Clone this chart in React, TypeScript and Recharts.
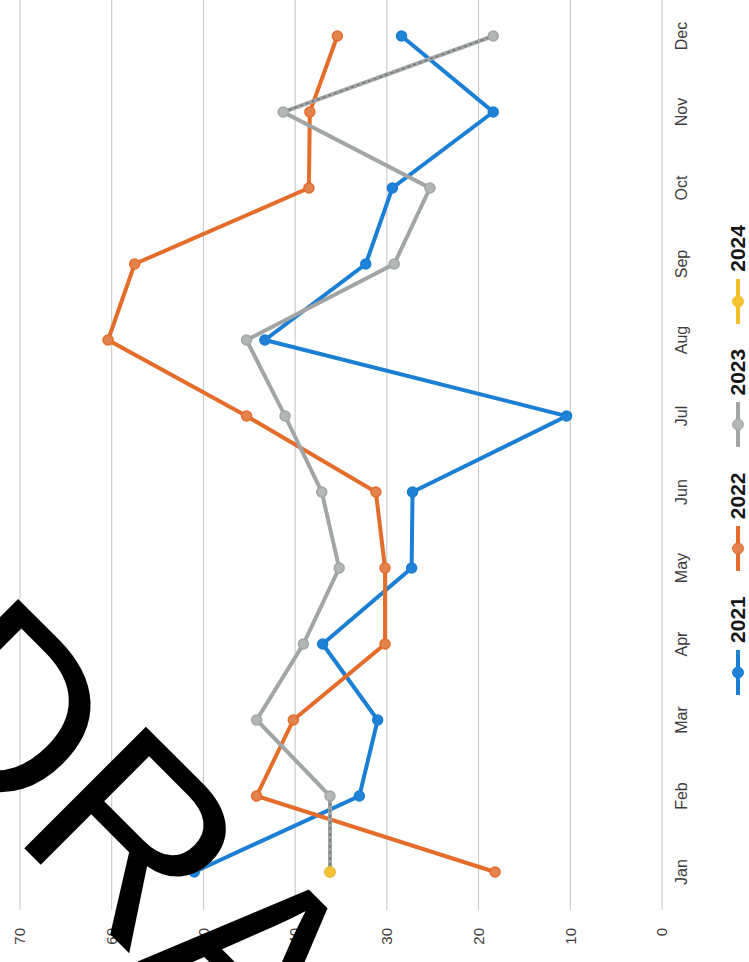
import React from "react";
import { CartesianGrid, Line, LineChart, XAxis, YAxis } from "recharts";

const MONTHS = ["Jan", "Feb", "Mar", "Apr", "May", "Jun", "Jul", "Aug", "Sep", "Oct", "Nov", "Dec"];
const Y2021 = [51, 33, 31, 37, 27.3, 27.2, 10.4, 43.3, 32.3, 29.4, 18.4, 28.4];
const Y2022 = [18.2, 44.2, 40.2, 30.2, 30.2, 31.2, 45.3, 60.4, 57.5, 38.5, 38.4, 35.4];
const Y2023 = [36.2, 36.2, 44.2, 39.1, 35.2, 37.1, 41.1, 45.3, 29.2, 25.3, 41.3, 18.4];
const Y2024 = [36.2, null, null, null, null, null, null, null, null, null, null, null];
// darker dashed texture on the first and last 2023 segments
const Y2023_EDGE = [36.2, 36.2, null, null, null, null, null, null, null, null, 41.3, 18.4];
const VALUE_TICKS = [0, 10, 20, 30, 40, 50, 60, 70];

const SERIES = [
  { key: "y2021", name: "2021", color: "#1b7fd4", dotFill: "#1f82d6" },
  { key: "y2022", name: "2022", color: "#e46d2c", dotFill: "#e3844e" },
  { key: "y2023", name: "2023", color: "#a2a5a5", dotFill: "#b3b6b6" },
  { key: "y2024", name: "2024", color: "#f4bf2a", dotFill: "#f5c232" },
];

const data = MONTHS.map((month, i) => ({
  month,
  y2021: Y2021[i],
  y2022: Y2022[i],
  y2023: Y2023[i],
  y2024: Y2024[i],
  y2023edge: Y2023_EDGE[i],
}));

// chart is drawn upright, then turned a quarter turn counter-clockwise
const CW = 980;
const CH = 749;

function YearLegend() {
  return (
    <div
      style={{
        position: "absolute",
        left: 0,
        top: 726,
        width: CW,
        display: "flex",
        justifyContent: "center",
        alignItems: "center",
        gap: 25,
        height: 24,
        paddingLeft: 24,
        boxSizing: "border-box",
      }}
    >
      {SERIES.map((s) => (
        <div key={s.key} style={{ display: "flex", alignItems: "center" }}>
          <svg width={45} height={14}>
            <line x1={1} y1={7} x2={44} y2={7} stroke={s.color} strokeWidth={4} strokeLinecap="round" />
            <circle cx={22.5} cy={7} r={5.5} fill={s.dotFill} stroke={s.color} strokeWidth={1} />
          </svg>
          <span style={{ marginLeft: 7, fontSize: 21, fontWeight: 700, color: "#151515" }}>{s.name}</span>
        </div>
      ))}
    </div>
  );
}

export default function App() {
  return (
    <div
      style={{
        position: "absolute",
        left: 0,
        top: 0,
        width: 749,
        height: 962,
        overflow: "hidden",
        background: "#fff",
      }}
    >
      <div
        style={{
          position: "absolute",
          left: 0,
          top: 0,
          width: CW,
          height: CH,
          transformOrigin: "0 0",
          transform: "translateY(962px) rotate(-90deg)",
          fontFamily: "'Liberation Sans', Arial, sans-serif",
        }}
      >
        <LineChart width={CW} height={CH} data={data} margin={{ top: 20, right: 16, bottom: 24, left: 0 }}>
          <CartesianGrid vertical={false} stroke="#c4c4c4" />
          <XAxis
            dataKey="month"
            interval={0}
            height={63}
            padding={{ left: 38, right: 38 }}
            tickLine={false}
            axisLine={false}
            tickSize={0}
            tickMargin={14}
            tick={{ fill: "#3c3c3c", fontSize: 16 }}
          />
          <YAxis
            domain={[0, 70]}
            ticks={VALUE_TICKS}
            width={52}
            tickLine={false}
            axisLine={false}
            tickSize={0}
            tickMargin={18}
            tick={{ fill: "#3c3c3c", fontSize: 15 }}
          />
          {SERIES.map((s) => (
            <Line
              key={s.key}
              dataKey={s.key}
              name={s.name}
              type="linear"
              stroke={s.color}
              strokeWidth={4}
              dot={{ r: 5, fill: s.dotFill, stroke: s.color, strokeWidth: 1.5 }}
              connectNulls={false}
              isAnimationActive={false}
            />
          ))}
          <Line
            dataKey="y2023edge"
            type="linear"
            stroke="#6f7373"
            strokeWidth={1.4}
            strokeDasharray="3 3"
            dot={false}
            legendType="none"
            connectNulls={false}
            isAnimationActive={false}
          />
        </LineChart>
        <YearLegend />
      </div>
      <svg
        width={749}
        height={962}
        style={{ position: "absolute", left: 0, top: 0, pointerEvents: "none" }}
      >
        <text
          x={-118}
          y={706}
          transform="rotate(45 -118 706)"
          fontSize={250}
          fontFamily="'Liberation Sans', Arial, sans-serif"
          fill="#000"
        >
          DRAFT
        </text>
      </svg>
    </div>
  );
}
